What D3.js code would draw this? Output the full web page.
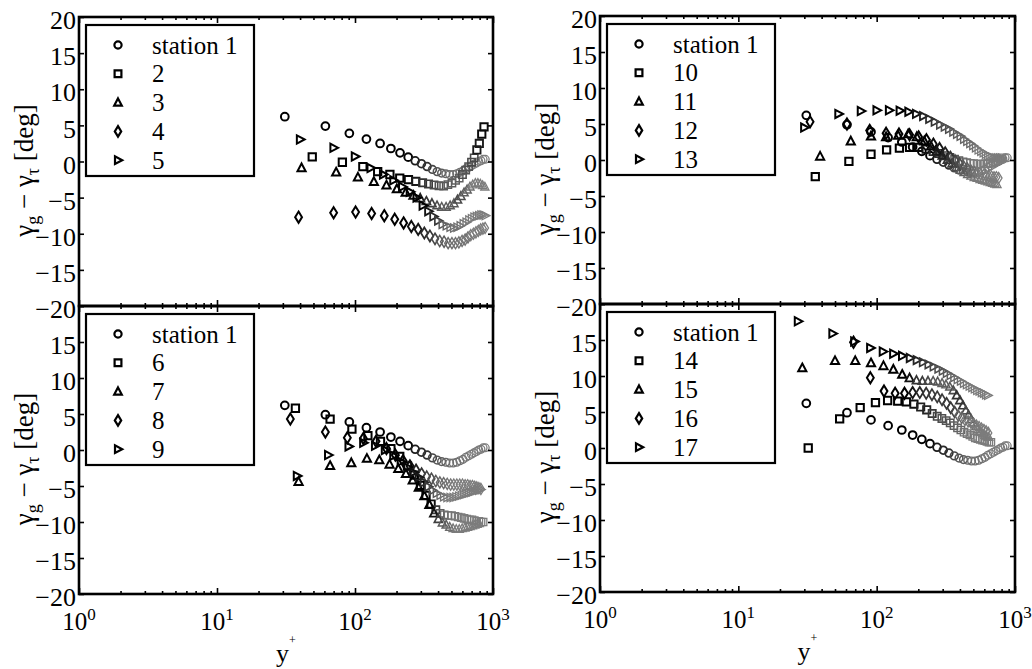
<!DOCTYPE html>
<html>
<head>
<meta charset="utf-8">
<script src="https://cdn.jsdelivr.net/npm/d3@7"></script>
<style>
  html, body { margin: 0; padding: 0; background: #fff; }
  svg { display: block; font-family: "Liberation Serif", "Times New Roman", serif; }
</style>
</head>
<body>
<svg id="chart" width="1032" height="669"></svg>
<script>
// ---- measured profiles: wall distance y+ and flow-angle difference (deg) ----
const yPlus1  = [31,61,91,121,152,182,212,243,273,303,333,364,394,424,455,485,515,546,576,606,636,667,697,727,758,788,818,848,879];
const gamma1  = [6.2,4.9,3.9,3.1,2.5,1.8,1.2,0.6,0.1,-0.3,-0.7,-1.1,-1.4,-1.6,-1.7,-1.8,-1.8,-1.7,-1.5,-1.3,-1.0,-0.8,-0.6,-0.4,-0.2,0.0,0.1,0.3,0.3];

const yPlus2  = [49,81,114,146,179,211,244,276,309,341,374,406,439,471,504,536,569,601,634,666,699,731,764,796,829,861];
const gamma2  = [0.65,-0.1,-0.7,-1.4,-1.8,-2.3,-2.5,-2.75,-2.95,-3.1,-3.25,-3.35,-3.4,-3.2,-3.0,-2.6,-2.3,-1.8,-1.2,-0.7,-0.1,0.5,1.6,2.5,3.8,4.8];

const yPlus3  = [41,73,105,137,169,201,233,265,297,329,361,393,425,457,489,521,553,585,617,649,681,713,745,777,809,841,873];
const gamma3  = [-0.9,-1.5,-2.2,-2.8,-3.3,-3.8,-4.3,-4.7,-5.1,-5.5,-5.8,-6.1,-6.3,-6.3,-6.1,-5.8,-5.3,-4.8,-4.3,-3.9,-3.5,-3.2,-3.0,-3.0,-3.1,-3.3,-3.5];

const yPlus4  = [39,70,101,132,163,194,225,256,287,318,349,380,411,442,473,504,535,566,597,628,659,690,721,752,783,814,845,876];
const gamma4  = [-7.7,-7.1,-7.0,-7.2,-7.5,-8.0,-8.5,-9.0,-9.4,-9.9,-10.3,-10.7,-11.0,-11.1,-11.3,-11.3,-11.3,-11.2,-11.0,-10.8,-10.5,-10.2,-10.0,-9.8,-9.6,-9.4,-9.3,-9.2];

const yPlus5  = [40,70,100,130,160,190,220,250,280,310,340,370,400,430,460,490,520,550,580,610,640,670,700,730,760,790,820,850,880];
const gamma5  = [3.05,1.9,0.7,-0.9,-1.8,-2.6,-3.5,-4.2,-5.0,-6.1,-6.9,-7.6,-8.2,-8.7,-8.9,-9.1,-9.2,-9.1,-8.9,-8.6,-8.4,-8.1,-7.9,-7.7,-7.6,-7.5,-7.4,-7.4,-7.5];

const yPlus6  = [37,66,95,124,153,182,211,240,269,298,327,356,385,414,443,472,501,530,559,588,617,646,675,704,733,762,791,820,849];
const gamma6  = [5.8,4.3,2.9,2.0,1.2,0.2,-0.9,-2.2,-3.5,-4.9,-6.3,-7.5,-8.3,-8.8,-9.0,-9.1,-9.1,-9.2,-9.3,-9.4,-9.5,-9.6,-9.7,-9.7,-9.8,-9.9,-9.9,-10.0,-10.0];

const yPlus7  = [39,66,94,122,150,178,206,234,262,290,318,346,374,402,430,458,486,514,542,570,598,626,654,682,710,738,766,794];
const gamma7  = [-4.4,-2.2,-1.8,-1.2,-1.4,-2.0,-2.6,-3.3,-4.2,-5.2,-6.4,-7.6,-8.8,-9.6,-10.1,-10.4,-10.7,-10.9,-11.0,-11.0,-10.9,-10.8,-10.7,-10.6,-10.5,-10.4,-10.3,-10.2];

const yPlus8  = [34,61,88,115,142,169,196,223,250,277,304,331,358,385,412,439,466,493,520,547,574,601,628,655,682,709,736,763,790,817];
const gamma8  = [4.3,2.5,1.7,1.6,1.2,0.2,-0.7,-1.5,-2.2,-2.8,-3.3,-3.7,-4.0,-4.3,-4.5,-4.6,-4.7,-4.8,-4.8,-4.8,-4.8,-4.8,-4.9,-4.9,-5.0,-5.0,-5.1,-5.2,-5.3,-5.4];

const yPlus9  = [38,64,90,115,140,165,190,215,240,265,290,315,340,365,390,415,440,465,490,515,540,565,590,615,640,665,690,715,740,765,790,815];
const gamma9  = [-3.6,-0.7,0.5,1.0,0.6,0.0,-0.8,-1.6,-2.4,-3.1,-3.8,-4.5,-5.1,-5.6,-6.0,-6.3,-6.5,-6.6,-6.6,-6.6,-6.5,-6.4,-6.3,-6.2,-6.1,-6.0,-5.9,-5.8,-5.7,-5.6,-5.6,-5.5];

const yPlus10 = [36,63,91,118,146,173,201,228,256,283,311,338,366,393,421,448,476,503,531,558,586,613,641,668,696,723,751,778,806];
const gamma10 = [-2.3,-0.2,0.8,1.4,1.65,1.75,1.75,1.5,1.2,0.9,0.6,0.35,0.1,-0.1,-0.25,-0.35,-0.45,-0.5,-0.55,-0.55,-0.55,-0.5,-0.5,-0.45,-0.35,-0.25,-0.1,0.1,0.3];

const yPlus11 = [39,65,91,117,143,169,195,221,247,273,299,325,351,377,403,429,455,481,507,533,559,585,611,637,663,689,715,741];
const gamma11 = [0.5,2.6,3.3,3.2,3.4,3.6,3.2,2.6,1.9,1.2,0.6,0.0,-0.5,-1.0,-1.4,-1.7,-2.0,-2.2,-2.4,-2.5,-2.7,-2.8,-2.9,-3.0,-3.1,-3.2,-3.3,-3.4];

const yPlus12 = [33,61,89,117,145,173,201,229,257,285,313,341,369,397,425,453,481,509,537,565,593,621,649,677,705,733,761];
const gamma12 = [5.3,5.0,4.1,3.7,3.6,3.5,3.2,2.8,2.2,1.6,1.0,0.4,-0.1,-0.5,-0.9,-1.2,-1.5,-1.7,-1.9,-2.0,-2.1,-2.2,-2.3,-2.3,-2.4,-2.4,-2.5];

const yPlus13 = [30,53,77,100,123,147,170,193,217,240,263,287,310,333,357,380,403,427,450,473,497,520,543,567,590,613,637,660,683,707,730,753,777,800];
const gamma13 = [4.5,6.4,6.8,6.9,6.9,6.85,6.7,6.4,6.1,5.7,5.3,4.9,4.6,4.3,3.9,3.6,3.3,2.9,2.6,2.3,2.0,1.7,1.4,1.2,1.0,0.8,0.6,0.5,0.4,0.3,0.3,0.3,0.3,0.3];

const yPlus14 = [32,54,76,98,120,142,164,186,208,230,252,274,296,318,340,362,384,406,428,450,472,494,516,538,560,582,604,626,648,670];
const gamma14 = [0.0,4.05,5.6,6.3,6.6,6.5,6.4,6.1,5.7,5.3,4.8,4.4,4.1,3.8,3.5,3.1,2.8,2.5,2.2,2.0,1.8,1.6,1.4,1.3,1.2,1.1,1.0,0.9,0.8,0.8];

const yPlus15 = [29,50,70,91,112,132,153,173,194,214,235,256,276,297,317,338,358,379,400,420,441,461,482,502,523,543,564,585,605,626,646];
const gamma15 = [11.1,12.1,12.1,11.8,11.4,10.9,10.2,9.7,9.4,9.3,9.3,9.3,9.2,9.0,8.8,8.5,8.0,7.3,6.6,5.9,5.2,4.6,4.0,3.5,3.0,2.6,2.3,2.0,1.8,1.6,1.5];

const yPlus16 = [68,90,113,136,159,182,205,228,251,274,297,320,343,366,389,412,435,458,481,504,527,550,573,596,619,642];
const gamma16 = [14.7,9.75,7.9,7.6,7.6,7.7,7.7,7.6,7.4,7.1,6.7,6.2,5.6,5.0,4.5,4.2,3.9,3.7,3.5,3.3,3.1,2.9,2.7,2.5,2.3,2.1];

const yPlus17 = [27,48,69,90,111,132,153,174,195,216,237,258,279,300,321,342,363,384,405,426,447,468,489,510,531,552,573,594,615,636];
const gamma17 = [17.6,15.9,14.8,13.9,13.4,13.1,12.8,12.5,12.2,11.9,11.6,11.3,11.0,10.7,10.4,10.1,9.8,9.5,9.3,9.0,8.8,8.6,8.4,8.2,8.0,7.9,7.7,7.6,7.4,7.3];

// stations shown in each panel, with their legend texts
const stationsTopLeft     = [1, 2, 3, 4, 5];
const stationsTopRight    = [1, 10, 11, 12, 13];
const stationsBottomLeft  = [1, 6, 7, 8, 9];
const stationsBottomRight = [1, 14, 15, 16, 17];
const legendTopLeft     = ["station 1", "2", "3", "4", "5"];
const legendTopRight    = ["station 1", "10", "11", "12", "13"];
const legendBottomLeft  = ["station 1", "6", "7", "8", "9"];
const legendBottomRight = ["station 1", "14", "15", "16", "17"];

// axis ticks
const xMajorTicks = [1, 10, 100, 1000];
const xTickExponents = ["0", "1", "2", "3"];
const yTicks = [-20, -15, -10, -5, 0, 5, 10, 15, 20];

// ---- assemble ----
const profiles = {
  1: [yPlus1, gamma1], 2: [yPlus2, gamma2], 3: [yPlus3, gamma3], 4: [yPlus4, gamma4],
  5: [yPlus5, gamma5], 6: [yPlus6, gamma6], 7: [yPlus7, gamma7], 8: [yPlus8, gamma8],
  9: [yPlus9, gamma9], 10: [yPlus10, gamma10], 11: [yPlus11, gamma11], 12: [yPlus12, gamma12],
  13: [yPlus13, gamma13], 14: [yPlus14, gamma14], 15: [yPlus15, gamma15], 16: [yPlus16, gamma16],
  17: [yPlus17, gamma17]
};

const panels = [
  { left: 79,  right: 493,  top: 17,  bottom: 306, stations: stationsTopLeft,     legend: legendTopLeft,     lower: false },
  { left: 600, right: 1015, top: 16,  bottom: 304, stations: stationsTopRight,    legend: legendTopRight,    lower: false },
  { left: 79,  right: 493,  top: 306, bottom: 594, stations: stationsBottomLeft,  legend: legendBottomLeft,  lower: true },
  { left: 600, right: 1015, top: 304, bottom: 592, stations: stationsBottomRight, legend: legendBottomRight, lower: true }
];

const shapes = ["circle", "square", "triUp", "diamond", "triRight"];

function markerPath(shape, s) {
  const p = d3.path();
  switch (shape) {
    case "circle":   p.arc(0, 0, s * 0.9, 0, 2 * Math.PI); break;
    case "square":   p.rect(-s * 0.85, -s * 0.85, s * 1.7, s * 1.7); break;
    case "triUp":    p.moveTo(0, -s * 1.05); p.lineTo(s * 0.95, s * 0.75); p.lineTo(-s * 0.95, s * 0.75); p.closePath(); break;
    case "diamond":  p.moveTo(0, -s * 1.3); p.lineTo(s * 0.8, 0); p.lineTo(0, s * 1.3); p.lineTo(-s * 0.8, 0); p.closePath(); break;
    case "triRight": p.moveTo(s * 1.05, 0); p.lineTo(-s * 0.75, -s * 0.95); p.lineTo(-s * 0.75, s * 0.95); p.closePath(); break;
  }
  return p.toString();
}

const svg = d3.select("#chart");
const FONT = "'Liberation Serif', 'Times New Roman', serif";
const minorTicks = [];
for (let e = 0; e < 3; e++) for (let k = 2; k <= 9; k++) minorTicks.push(k * Math.pow(10, e));

// markers fade to grey where neighbouring samples crowd together
const crowdTone = d3.scaleLinear().domain([3, 8]).range(["#7c7c7c", "#000000"]).clamp(true);
const crowdWidth = d3.scaleLinear().domain([3, 8]).range([1.3, 2.0]).clamp(true);

panels.forEach(pn => {
  const x = d3.scaleLog().domain([1, 1000]).range([pn.left, pn.right]);
  const y = d3.scaleLinear().domain([-20, 20]).range([pn.bottom, pn.top]);
  const g = svg.append("g");

  // data markers
  pn.stations.forEach((st, si) => {
    const [xs, ys] = profiles[st];
    const pts = xs.map((v, i) => ({ px: x(v), py: y(ys[i]) }));
    pts.forEach((p, i) => {
      const d = [pts[i - 1], pts[i + 1]].filter(Boolean)
        .map(q => Math.hypot(q.px - p.px, q.py - p.py));
      p.gap = d.length ? Math.min(...d) : 20;
    });
    g.append("g").selectAll("path").data(pts).join("path")
      .attr("d", markerPath(shapes[si], 4.3))
      .attr("transform", p => `translate(${p.px},${p.py})`)
      .attr("fill", "none")
      .attr("stroke", p => crowdTone(p.gap))
      .attr("stroke-width", p => crowdWidth(p.gap));
  });

  // ticks (inward) on all four sides
  const tickStyle = sel => {
    sel.select(".domain").remove();
    sel.selectAll(".tick line").attr("stroke", "#000").attr("stroke-width", 1.6);
  };
  g.append("g").attr("transform", `translate(0,${pn.bottom})`)
    .call(d3.axisBottom(x).tickValues(xMajorTicks).tickSize(-6).tickFormat("")).call(tickStyle);
  g.append("g").attr("transform", `translate(0,${pn.bottom})`)
    .call(d3.axisBottom(x).tickValues(minorTicks).tickSize(-3).tickFormat("")).call(tickStyle);
  g.append("g").attr("transform", `translate(0,${pn.top})`)
    .call(d3.axisTop(x).tickValues(xMajorTicks).tickSize(-6).tickFormat("")).call(tickStyle);
  g.append("g").attr("transform", `translate(0,${pn.top})`)
    .call(d3.axisTop(x).tickValues(minorTicks).tickSize(-3).tickFormat("")).call(tickStyle);
  g.append("g").attr("transform", `translate(${pn.right},0)`)
    .call(d3.axisRight(y).tickValues(yTicks).tickSize(-5).tickFormat("")).call(tickStyle);

  const yAxis = g.append("g").attr("transform", `translate(${pn.left},0)`)
    .call(d3.axisLeft(y).tickValues(yTicks).tickSize(-5).tickPadding(3)
      .tickFormat(d => (d < 0 ? "\u2212" + Math.abs(d) : String(d))))
    .call(tickStyle);
  yAxis.attr("font-family", FONT).attr("font-size", 26);
  yAxis.selectAll(".tick text").attr("fill", "#000").attr("dy", "0.45em");
  if (pn.lower) yAxis.selectAll(".tick").filter(d => d === 20).select("text").remove();

  // frame
  g.append("rect")
    .attr("x", pn.left).attr("y", pn.top)
    .attr("width", pn.right - pn.left).attr("height", pn.bottom - pn.top)
    .attr("fill", "none").attr("stroke", "#000").attr("stroke-width", 2.6);

  // y axis title
  const yt = g.append("text")
    .attr("transform", `translate(${pn.left - 46},${(pn.top + pn.bottom) / 2 + 9}) rotate(-90)`)
    .attr("text-anchor", "middle").attr("font-family", FONT).attr("font-size", 27).attr("fill", "#000");
  yt.append("tspan").text("\u03b3");
  yt.append("tspan").attr("dy", 6).attr("font-size", 18).text("g");
  yt.append("tspan").attr("dy", -6).text(" \u2212 \u03b3");
  yt.append("tspan").attr("dy", 6).attr("font-size", 18).text("\u03c4");
  yt.append("tspan").attr("dy", -6).text(" [deg]");

  // x tick labels and title on the lower row
  if (pn.lower) {
    xMajorTicks.forEach((v, i) => {
      const t = g.append("text")
        .attr("x", x(v)).attr("y", pn.bottom + 36)
        .attr("text-anchor", "middle").attr("font-family", FONT).attr("font-size", 25).attr("fill", "#000");
      t.append("tspan").text("10");
      t.append("tspan").attr("dy", -10).attr("font-size", 17).text(xTickExponents[i]);
    });
    const xt = g.append("text")
      .attr("x", (pn.left + pn.right) / 2).attr("y", pn.bottom + 68)
      .attr("text-anchor", "middle").attr("font-family", FONT).attr("font-size", 26).attr("fill", "#000");
    xt.append("tspan").text("y");
    xt.append("tspan").attr("dy", -18).attr("font-size", 12).text("+");
  }

  // legend
  const lx = pn.left + 7, ly = pn.top + 8;
  const lg = g.append("g");
  lg.append("rect").attr("x", lx).attr("y", ly).attr("width", 168).attr("height", 151)
    .attr("fill", "#fff").attr("stroke", "#000").attr("stroke-width", 2.2);
  pn.legend.forEach((lab, i) => {
    const ry = ly + 20 + i * 28.8;
    lg.append("path").attr("d", markerPath(shapes[i], 4))
      .attr("transform", `translate(${lx + 32},${ry})`)
      .attr("fill", "none").attr("stroke", "#000").attr("stroke-width", 2.2);
    lg.append("text").attr("x", lx + 66).attr("y", ry + 8.5)
      .attr("font-family", FONT).attr("font-size", 25).attr("fill", "#000").text(lab);
  });
});
</script>
</body>
</html>
